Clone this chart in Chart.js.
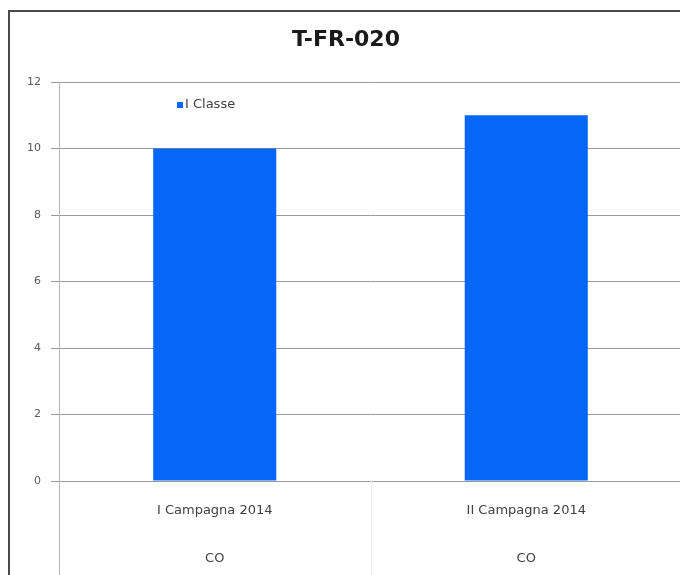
<!DOCTYPE html>
<html>
<head>
<meta charset="utf-8">
<script src="https://cdn.jsdelivr.net/npm/chart.js@4"></script>
<style>
  html, body { margin: 0; padding: 0; background: #fff; overflow: hidden; }
  #frame {
    position: absolute; left: 8px; top: 10px;
    width: 690px; height: 600px;
    border: 2px solid #4a4a4a; background: #fff;
  }
</style>
</head>
<body>
<div id="frame"><canvas id="chart" width="680" height="600"></canvas></div>
<script>
const categories = [
  ['I Campagna 2014', '', 'CO'],
  ['II Campagna 2014', '', 'CO']
];
const seriesName = 'I Classe';
const values = [10, 11];
const yTicks = [0, 2, 4, 6, 8, 10, 12];

const barBlue = '#0566f8';
const textFont = '"DejaVu Sans", sans-serif';

// legend drawn inside the plot area, near its top-left
const innerLegend = {
  id: 'innerLegend',
  afterDatasetsDraw(chart) {
    const { ctx, chartArea } = chart;
    const ds = chart.data.datasets[0];
    const x = chartArea.left + 118;
    const y = chartArea.top + 23;
    ctx.save();
    ctx.fillStyle = ds.backgroundColor;
    ctx.fillRect(x, y - 3, 6, 6);
    ctx.fillStyle = '#404040';
    ctx.font = '13px ' + textFont;
    ctx.textBaseline = 'middle';
    ctx.fillText(ds.label, x + 8, y);
    ctx.restore();
  }
};

// y axis line and category separators running down through the label area
const axisLines = {
  id: 'axisLines',
  afterDraw(chart) {
    const { ctx, chartArea, scales } = chart;
    const x = scales.x;
    const bottom = chart.height;
    ctx.save();
    ctx.lineWidth = 1;
    ctx.strokeStyle = '#ececec';
    for (let i = 1; i <= categories.length; i++) {
      const px = Math.round((x.getPixelForValue(i - 1) + x.getPixelForValue(i)) / 2) + 0.5;
      ctx.beginPath();
      ctx.moveTo(px, chartArea.bottom);
      ctx.lineTo(px, bottom);
      ctx.stroke();
    }
    ctx.strokeStyle = '#b8b8b8';
    const lx = Math.round(chartArea.left) + 0.5;
    ctx.beginPath();
    ctx.moveTo(lx, chartArea.top);
    ctx.lineTo(lx, bottom);
    ctx.stroke();
    ctx.restore();
  }
};

new Chart(document.getElementById('chart').getContext('2d'), {
  type: 'bar',
  data: {
    labels: categories,
    datasets: [{
      label: seriesName,
      data: values,
      backgroundColor: barBlue,
      borderWidth: 0,
      categoryPercentage: 1,
      barPercentage: 0.395
    }]
  },
  options: {
    responsive: false,
    animation: false,
    layout: { padding: { left: 0, right: 8, top: 0, bottom: 0 } },
    plugins: {
      legend: { display: false },
      tooltip: { enabled: false },
      title: {
        display: true,
        text: 'T-FR-020',
        color: '#1a1a1a',
        font: { family: textFont, size: 22, weight: 'bold', lineHeight: 1.2 },
        padding: { top: 15, bottom: 28.6 }
      }
    },
    scales: {
      x: {
        grid: { display: false },
        border: { display: false },
        ticks: {
          color: '#404040',
          padding: 10,
          maxRotation: 0,
          autoSkip: false,
          font: { family: textFont, size: 13, lineHeight: '24px' }
        },
        afterFit(scale) { scale.height = 131; }
      },
      y: {
        min: 0,
        max: 12,
        afterBuildTicks(scale) { scale.ticks = yTicks.map(v => ({ value: v })); },
        grid: { color: '#9a9a9a', tickLength: 8, tickColor: '#9a9a9a' },
        border: { display: false },
        ticks: {
          color: '#595959',
          padding: 10,
          font: { family: textFont, size: 11 }
        },
        afterFit(scale) { scale.width = 49; }
      }
    }
  },
  plugins: [innerLegend, axisLines]
});
</script>
</body>
</html>
